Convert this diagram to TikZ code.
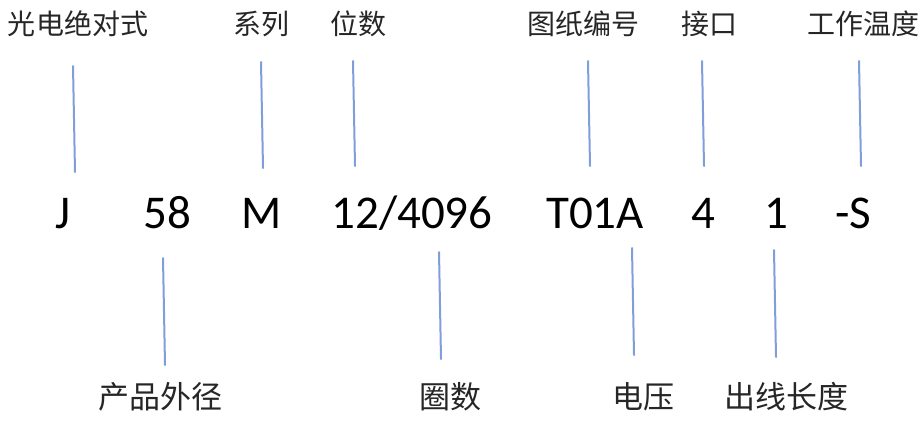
\documentclass[tikz,border=0pt]{standalone}
\usepackage{fontspec}
\setmainfont{Carlito}
\newfontfamily\cjk{Noto Sans CJK SC}
\definecolor{leadblue}{RGB}{128,158,218}
\definecolor{labgray}{RGB}{38,38,38}
\begin{document}
\begin{tikzpicture}[x=1pt,y=-1pt,line cap=round,
		lbl/.style={font=\cjk\fontsize{28}{28}\selectfont,text=labgray,inner sep=0pt},
		lblb/.style={lbl,font=\cjk\fontsize{31}{31}\selectfont},
		code/.style={font=\fontsize{47}{47}\selectfont,anchor=base,inner sep=0pt},
		lead/.style={draw=leadblue,line width=2pt}]
	\useasboundingbox (0,0) rectangle (920,421);
	% oben
	\node[lbl] (guang) at (78,24) {光电绝对式};
	\node[lbl] (xilie) at (261,24) {系列};
	\node[lbl] (weishu) at (358,24) {位数};
	\node[lbl] (tuzhi) at (583,24) {图纸编号};
	\node[lbl] (jiekou) at (709,24) {接口};
	\node[lbl] (wendu) at (863,24) {工作温度};
	% mitte
	\node[code] (J) at (63,228) {J};
	\node[code] (dia) at (167,228) {58};
	\node[code] (M) at (262,228) {M};
	\node[code] (bits) at (412,228) {12/4096};
	\node[code] (draw) at (595,228) {T01A};
	\node[code] (port) at (703,228) {4};
	\node[code] (len) at (776,228) {1};
	\node[code] (temp) at (853,228) {-S};
	% unten
	\node[lblb] (waijing) at (160,397) {产品外径};
	\node[lblb] (quanshu) at (450,397) {圈数};
	\node[lblb] (dianya) at (643,397) {电压};
	\node[lblb] (chuxian) at (786,397) {出线长度};
	% striche
	\foreach \xa/\ya/\xb/\yb in {73/66/75/172, 261/62/263/168, 353/61/355/166,
			588/61/590/166, 702/61/704/166, 859/61/861/166,
			163/258/165/365, 439/252/441/359, 632/248/634/355, 774/250/776/357}
		\draw[lead] (\xa,\ya)--(\xb,\yb);
\end{tikzpicture}
\end{document}
